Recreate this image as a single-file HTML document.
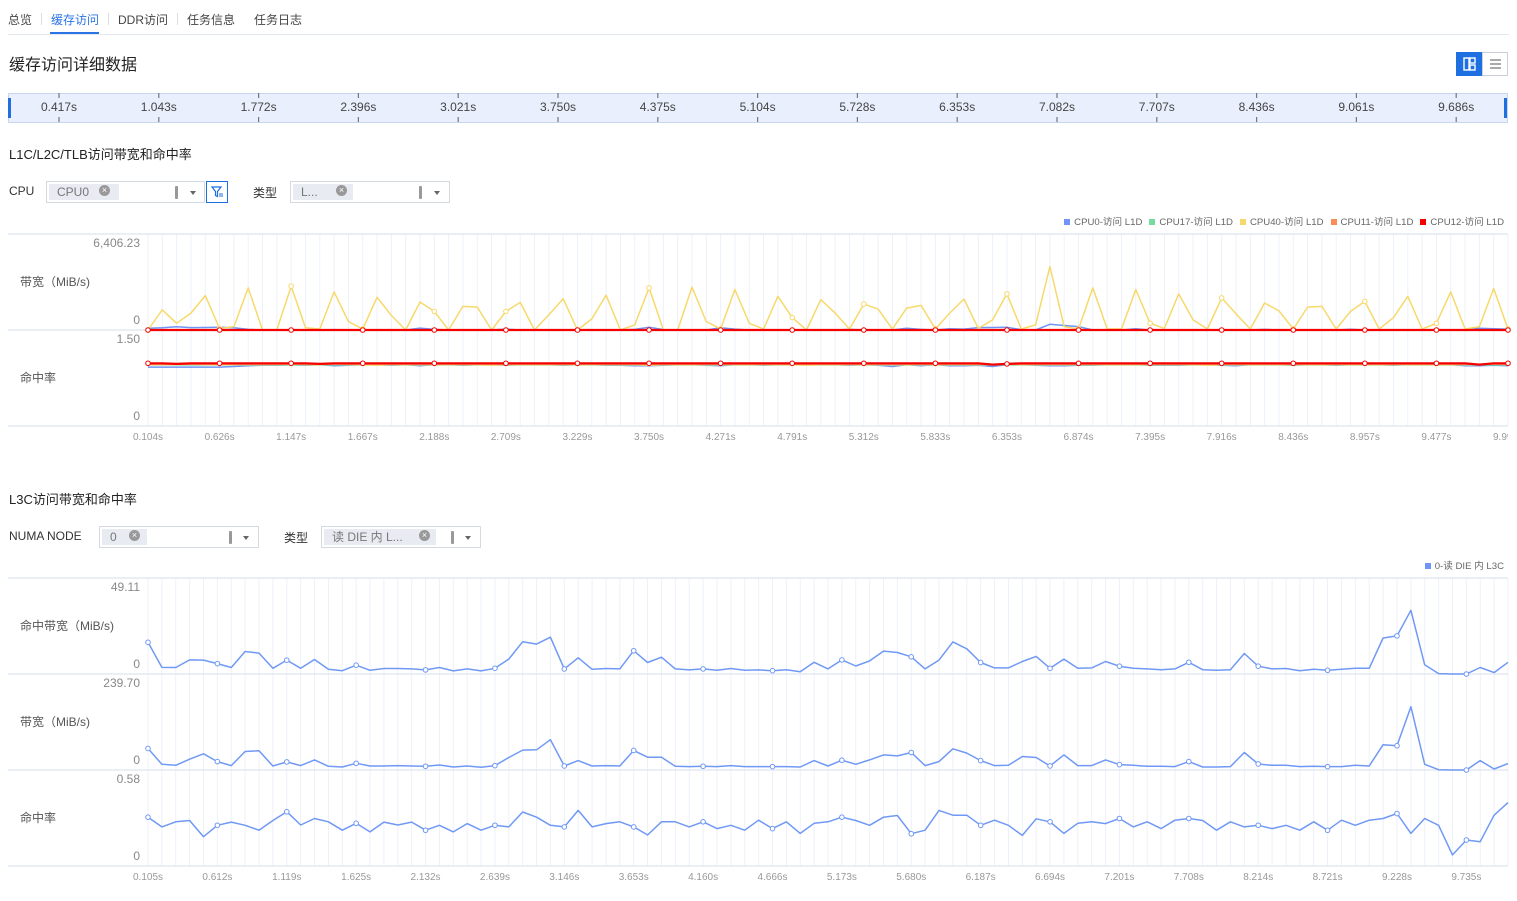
<!DOCTYPE html>
<html><head><meta charset="utf-8">
<style>
*{box-sizing:border-box;margin:0;padding:0}
body{width:1517px;height:901px;background:#fff;font-family:"Liberation Sans","Noto Sans CJK SC",sans-serif;color:#333;position:relative;overflow:hidden}
.abs{position:absolute}
.tab{position:absolute;top:11px;font-size:12px;color:#444}
.sel{position:absolute;height:22px;border:1px solid #d5d9e0;background:#fff}
.chip{position:absolute;top:2px;left:2px;height:16px;background:#e8ebf2;color:#777;font-size:12px;line-height:16px;padding-left:8px}
.x{position:absolute;top:3px;width:11px;height:11px;border-radius:50%;background:#999;color:#fff;font-size:9px;line-height:11px;text-align:center}
.bar{position:absolute;top:4px;width:3px;height:13px;background:#999;border-radius:1px}
.caret{position:absolute;top:9px;width:0;height:0;border-left:3px solid transparent;border-right:3px solid transparent;border-top:4px solid #666}
.legend{position:absolute;right:13px;font-size:9.6px;color:#666;display:flex;gap:7px;white-space:nowrap}
.legend span i{display:inline-block;width:6px;height:6px;margin-right:4px;vertical-align:0}
</style></head><body>
<div class="tab" style="left:8px">总览</div>
<div class="abs" style="left:41px;top:13px;width:1px;height:12px;background:#ddd"></div>
<div class="tab" style="left:51px;color:#2a74e6">缓存访问</div>
<div class="abs" style="left:50px;top:32px;width:49px;height:2px;background:#2a74e6"></div>
<div class="abs" style="left:108px;top:13px;width:1px;height:12px;background:#ddd"></div>
<div class="tab" style="left:118px">DDR访问</div>
<div class="abs" style="left:177px;top:13px;width:1px;height:12px;background:#ddd"></div>
<div class="tab" style="left:187px">任务信息</div>
<div class="tab" style="left:254px">任务日志</div>
<div class="abs" style="left:8px;top:34px;width:1501px;height:1px;background:#e3e8f0"></div>

<div class="abs" style="left:9px;top:51px;font-size:16px;color:#222">缓存访问详细数据</div>
<div class="abs" style="left:1456px;top:52px;width:26px;height:24px;background:#1e6fe0;border:1px solid #1e6fe0">
<svg width="24" height="22"><rect x="7" y="5" width="5" height="12" fill="none" stroke="#fff" stroke-width="1.4"/><rect x="13" y="5" width="5" height="5" fill="none" stroke="#fff" stroke-width="1.4"/><rect x="13" y="12" width="5" height="5" fill="none" stroke="#fff" stroke-width="1.4"/></svg></div>
<div class="abs" style="left:1482px;top:52px;width:26px;height:24px;border:1px solid #ccd;background:#fff">
<svg width="24" height="22"><path d="M7 7h11M7 11h11M7 15h11" stroke="#777" stroke-width="1.3"/></svg></div>

<div class="abs" style="left:8px;top:93px;width:1500px;height:30px;background:#e9effc;border:1px solid #c8d5ee"></div>
<div class="abs" style="left:8px;top:98px;width:3px;height:20px;background:#1e6fe0"></div>
<div class="abs" style="left:1504px;top:98px;width:3px;height:20px;background:#1e6fe0"></div>

<div class="abs" style="left:9px;top:144px;font-size:13px;color:#222">L1C/L2C/TLB访问带宽和命中率</div>
<div class="abs" style="left:9px;top:184px;font-size:12px">CPU</div>
<div class="sel" style="left:46px;top:181px;width:159px"><div class="chip" style="width:70px">CPU0</div><div class="x" style="left:52px">×</div><div class="bar" style="left:128px"></div><div class="caret" style="left:143px"></div></div>
<div class="abs" style="left:206px;top:181px;width:22px;height:22px;border:1px solid #1e6fe0"><svg width="20" height="20"><path d="M5 5h9l-3.5 4.5v5l-2-1v-4z" fill="none" stroke="#1e6fe0" stroke-width="1.2"/><path d="M12 12h4M12 14h4" stroke="#1e6fe0"/></svg></div>
<div class="abs" style="left:253px;top:184px;font-size:12px">类型</div>
<div class="sel" style="left:290px;top:181px;width:160px"><div class="chip" style="width:60px">L...</div><div class="x" style="left:45px">×</div><div class="bar" style="left:128px"></div><div class="caret" style="left:143px"></div></div>
<div class="legend" style="top:214px">
<span><i style="background:#6e95f7"></i>CPU0-访问 L1D</span>
<span><i style="background:#74dc9c"></i>CPU17-访问 L1D</span>
<span><i style="background:#f7d96b"></i>CPU40-访问 L1D</span>
<span><i style="background:#fb8c55"></i>CPU11-访问 L1D</span>
<span><i style="background:#f50000"></i>CPU12-访问 L1D</span></div>

<div class="abs" style="left:9px;top:489px;font-size:13px;color:#222">L3C访问带宽和命中率</div>
<div class="abs" style="left:9px;top:529px;font-size:12px">NUMA NODE</div>
<div class="sel" style="left:99px;top:526px;width:160px"><div class="chip" style="width:45px">0</div><div class="x" style="left:29px">×</div><div class="bar" style="left:129px"></div><div class="caret" style="left:143px"></div></div>
<div class="abs" style="left:284px;top:529px;font-size:12px">类型</div>
<div class="sel" style="left:321px;top:526px;width:160px"><div class="chip" style="width:112px">读 DIE 内 L...</div><div class="x" style="left:97px">×</div><div class="bar" style="left:129px"></div><div class="caret" style="left:143px"></div></div>
<div class="legend" style="top:558px"><span><i style="background:#6e95f7"></i>0-读 DIE 内 L3C</span></div>

<svg id="svg" class="abs" style="left:0;top:0" width="1517" height="901"><defs><clipPath id="clipR"><rect x="0" y="0" width="1508" height="901"/></clipPath></defs></svg>
<script>
// timeline
const tlLabels=['0.417s','1.043s','1.772s','2.396s','3.021s','3.750s','4.375s','5.104s','5.728s','6.353s','7.082s','7.707s','8.436s','9.061s','9.686s'];
// chart 1 data
const c1Labels=['0.104s','0.626s','1.147s','1.667s','2.188s','2.709s','3.229s','3.750s','4.271s','4.791s','5.312s','5.833s','6.353s','6.874s','7.395s','7.916s','8.436s','8.957s','9.477s','9.998s'];
const bwCpu40=[0,1350,450,1125,2295,100,225,2810,0,0,2925,150,70,2540,560,60,2180,970,0,1870,1240,0,1575,1530,0,1240,1845,0,1010,2090,0,740,2320,0,340,2810,0,0,2860,560,70,2700,450,70,2250,830,0,2025,1125,70,1730,1395,70,1460,1640,70,1125,2070,110,675,2410,70,340,4230,225,70,2810,70,70,2700,450,110,2410,675,70,2140,1080,70,1800,1280,70,1530,1575,70,1240,1910,70,830,2250,70,450,2540,70,225,2770,70];
const bwCpu0=[120,150,220,160,170,180,150,40,0,0,20,0,0,30,0,0,0,0,0,130,40,0,0,0,0,60,0,0,0,0,0,0,0,0,40,190,30,0,0,0,150,60,0,0,0,0,0,0,0,40,0,0,0,120,40,0,90,60,160,170,180,20,0,380,300,230,0,20,0,90,0,0,0,0,0,0,0,0,40,0,0,0,0,0,50,0,0,0,0,0,0,0,0,120,90,60];
const bwCpu17=Array(96).fill(0);
const bwCpu11=Array(96).fill(0);
const bwCpu12=Array(96).fill(0);
const hitCpu12=[0.98,0.98,0.97,0.98,0.98,0.98,0.98,0.98,0.98,0.98,0.98,0.98,0.97,0.98,0.98,0.98,0.98,0.98,0.98,0.98,0.98,0.98,0.98,0.98,0.98,0.98,0.98,0.98,0.98,0.98,0.98,0.98,0.98,0.98,0.98,0.98,0.98,0.98,0.98,0.98,0.98,0.98,0.98,0.98,0.98,0.98,0.98,0.98,0.98,0.98,0.98,0.98,0.98,0.98,0.98,0.98,0.98,0.98,0.98,0.96,0.97,0.98,0.98,0.98,0.98,0.98,0.98,0.98,0.98,0.98,0.98,0.98,0.98,0.98,0.98,0.98,0.98,0.98,0.98,0.98,0.98,0.98,0.98,0.98,0.98,0.98,0.98,0.98,0.98,0.98,0.98,0.98,0.98,0.96,0.98,0.98];
const hitCpu0=[0.92,0.92,0.92,0.92,0.92,0.92,0.93,0.94,0.95,0.95,0.96,0.95,0.96,0.94,0.95,0.96,0.96,0.95,0.96,0.94,0.96,0.96,0.95,0.96,0.96,0.95,0.96,0.96,0.96,0.95,0.96,0.96,0.95,0.95,0.94,0.94,0.95,0.96,0.96,0.95,0.94,0.96,0.96,0.95,0.96,0.96,0.96,0.96,0.96,0.95,0.96,0.95,0.93,0.96,0.94,0.96,0.94,0.94,0.95,0.93,0.96,0.96,0.95,0.94,0.94,0.95,0.95,0.96,0.96,0.96,0.95,0.95,0.95,0.96,0.96,0.95,0.94,0.96,0.96,0.96,0.95,0.96,0.96,0.95,0.96,0.96,0.96,0.95,0.96,0.96,0.96,0.96,0.94,0.94,0.95,0.94];
const hitCpu40=[0.96,0.96,0.96,0.97,0.96,0.96,0.96,0.96,0.96,0.96,0.97,0.96,0.96,0.97,0.96,0.96,0.95,0.96,0.96,0.96,0.96,0.96,0.96,0.96,0.95,0.96,0.96,0.96,0.96,0.96,0.96,0.96,0.96,0.96,0.96,0.95,0.96,0.96,0.96,0.96,0.96,0.96,0.96,0.96,0.96,0.96,0.95,0.96,0.96,0.96,0.96,0.96,0.96,0.96,0.96,0.96,0.96,0.96,0.96,0.96,0.97,0.96,0.96,0.96,0.96,0.96,0.96,0.96,0.96,0.96,0.96,0.96,0.96,0.96,0.95,0.96,0.96,0.96,0.96,0.96,0.96,0.96,0.96,0.96,0.96,0.96,0.96,0.96,0.96,0.96,0.96,0.96,0.96,0.96,0.97,0.96];
const hitCpu17=Array(96).fill(0.955);
const hitCpu11=Array(96).fill(0.965);
// chart 2 data
const c2Labels=['0.105s','0.612s','1.119s','1.625s','2.132s','2.639s','3.146s','3.653s','4.160s','4.666s','5.173s','5.680s','6.187s','6.694s','7.201s','7.708s','8.214s','8.721s','9.228s','9.735s'];
const l3HitBw=[16.2,3.4,3.3,7.2,7.1,5.3,3.3,11.5,10.7,2.9,7.1,2.9,7.4,2.4,1.7,4.5,1.9,2.8,2.8,2.6,2.1,3.3,1.6,2.6,1.6,2.9,7.6,16.5,15.3,18.8,2.6,8.3,2.4,2.8,2.6,11.9,5.9,8.6,2.6,2.1,2.6,1.9,2.8,1.9,2.1,1.7,2.2,1.2,6.0,2.6,7.2,4.1,6.7,11.7,11.0,8.8,2.6,7.1,16.4,12.9,5.9,3.1,3.1,6.4,9.0,2.9,7.6,2.9,3.1,6.4,4.0,2.9,2.6,2.2,2.6,6.0,2.2,1.9,2.2,10.5,4.0,2.6,2.8,1.7,2.4,1.9,2.4,2.9,2.9,18.4,19.5,32.6,4.7,0.2,0,0,3.3,0.7,6.0];
const l3Bw=[53.8,14.3,11.8,26.9,40.4,21.0,10.9,46.3,47.9,10.1,20.2,10.9,25.2,9.3,7.6,16.8,10.1,10.1,10.9,10.1,9.3,12.6,7.6,10.1,6.7,10.9,31.1,49.6,50.5,75.7,10.1,23.5,10.1,10.9,10.1,48.8,32.0,32.0,9.3,8.4,9.3,8.4,10.9,8.4,8.4,8.4,8.4,7.6,23.5,10.1,24.4,14.3,25.2,37.8,35.3,43.7,10.9,21.0,53.0,42.1,23.5,10.9,11.8,33.6,31.1,10.1,37.8,10.9,10.9,25.2,13.5,11.8,9.3,9.3,8.4,21.0,7.6,7.6,8.4,43.7,15.1,11.8,11.8,8.4,9.3,8.4,8.4,11.8,10.1,63.1,60.6,158.1,14.3,0.8,0,0,23.5,2.5,16.0];
const l3Hit=[0.295,0.236,0.267,0.275,0.177,0.246,0.265,0.246,0.216,0.275,0.328,0.248,0.287,0.267,0.216,0.258,0.206,0.265,0.248,0.265,0.216,0.246,0.206,0.256,0.216,0.246,0.236,0.326,0.295,0.246,0.236,0.336,0.236,0.256,0.267,0.236,0.187,0.267,0.267,0.236,0.267,0.226,0.246,0.216,0.277,0.226,0.267,0.197,0.258,0.267,0.295,0.275,0.246,0.295,0.305,0.195,0.216,0.336,0.307,0.307,0.246,0.277,0.246,0.185,0.285,0.267,0.197,0.258,0.267,0.256,0.287,0.236,0.267,0.226,0.277,0.287,0.275,0.216,0.267,0.236,0.246,0.226,0.246,0.216,0.267,0.216,0.277,0.246,0.277,0.287,0.317,0.197,0.287,0.246,0.067,0.157,0.147,0.307,0.383];

const svg=document.getElementById('svg');
const NS='http://www.w3.org/2000/svg';
function mk(tag,attrs,parent){const e=document.createElementNS(NS,tag);for(const k in attrs)e.setAttribute(k,attrs[k]);(parent||svg).appendChild(e);return e;}
function txt(x,y,s,anchor,size,color,parent){const t=mk('text',{x:x,y:y,'text-anchor':anchor,'font-size':size,fill:color,'font-family':'Liberation Sans, Noto Sans CJK SC, sans-serif'},parent);t.textContent=s;return t;}

// timeline ticks
tlLabels.forEach((l,i)=>{const x=59+i*99.8;
 const tk=mk('path',{d:`M${x} 93v5M${x} 117v5`,stroke:'#777','stroke-width':1.2});
 
 
 const t=txt(x,111,l,'middle',12,'#444');
 
 
});

function chart(cfg){
 const n=cfg.n, x0=148, x1=1508;
 const xs=k=>x0+k*(x1-x0)/(n-1);
 const g=mk('g',{});
 
 
 for(let k=0;k<n;k++){const l=mk('line',{x1:xs(k),x2:xs(k),y1:cfg.top,y2:cfg.panels.length*96+cfg.top,stroke:'#edf1f8','stroke-width':1},g);
  
  }
 mk('line',{x1:8,x2:1508,y1:cfg.top,y2:cfg.top,stroke:'#e3e8f2','stroke-width':1.5},g);
 cfg.panels.forEach((p,pi)=>{
  const yt=cfg.top+pi*96, yb=yt+96;
  const ys=v=>yb-v/p.max*96;
  mk('line',{x1:8,x2:1508,y1:yb,y2:yb,stroke:'#e3e8f2','stroke-width':1.5},g);
  const a=txt(140,yt+13,p.maxLabel,'end',12,'#888',g);
  const z=txt(140,yb-6,'0','end',12,'#888',g);
  const tt=txt(20,yt+52,p.title,'start',12,'#555',g);
  p.series.forEach(s=>{
   const d=s.data.map((v,k)=>(k?'L':'M')+xs(k).toFixed(1)+' '+ys(v).toFixed(1)).join('');
   const path=mk('path',{d:d,fill:'none',stroke:s.color,'stroke-width':s.w||1.5,'stroke-linejoin':'round'},g);
   
   
   if(s.marker) s.data.forEach((v,k)=>{if(k%5===0){const c=mk('circle',{cx:xs(k),cy:ys(v),r:2.3,fill:'#fff',stroke:s.color,'stroke-width':1},g);
     
     }});
  });
 });
 const by=cfg.top+cfg.panels.length*96;
 const lg=mk('g',{'clip-path':'url(#clipR)'},g);
 cfg.labels.forEach((l,i)=>{const t=txt(xs(i*5),by+14,l,'middle',10,'#999',lg);});
}

chart({name:'l1-chart',n:96,top:234,labels:c1Labels,panels:[
 {max:6406.23,maxLabel:'6,406.23',title:'带宽（MiB/s)',series:[
  {name:'bw-cpu0',data:bwCpu0,color:'#6e95f7'},
  {name:'bw-cpu17',data:bwCpu17,color:'#74dc9c'},
  {name:'bw-cpu40',data:bwCpu40,color:'#f7d96b',marker:true},
  {name:'bw-cpu11',data:bwCpu11,color:'#fb8c55'},
  {name:'bw-cpu12',data:bwCpu12,color:'#f50000',w:2.2,marker:true}]},
 {max:1.5,maxLabel:'1.50',title:'命中率',series:[
  {name:'hit-cpu0',data:hitCpu0,color:'#6e95f7'},
  {name:'hit-cpu17',data:hitCpu17,color:'#74dc9c'},
  {name:'hit-cpu40',data:hitCpu40,color:'#f7d96b'},
  {name:'hit-cpu11',data:hitCpu11,color:'#fb8c55'},
  {name:'hit-cpu12',data:hitCpu12,color:'#f50000',w:2.2,marker:true}]}]});

chart({name:'l3-chart',n:99,top:578,labels:c2Labels,panels:[
 {max:49.11,maxLabel:'49.11',title:'命中带宽（MiB/s)',series:[{name:'l3-hit-bandwidth',data:l3HitBw,color:'#7099f5',marker:true}]},
 {max:239.70,maxLabel:'239.70',title:'带宽（MiB/s)',series:[{name:'l3-bandwidth',data:l3Bw,color:'#7099f5',marker:true}]},
 {max:0.58,maxLabel:'0.58',title:'命中率',series:[{name:'l3-hit-rate',data:l3Hit,color:'#7099f5',marker:true}]}]});
</script>
</body></html>
